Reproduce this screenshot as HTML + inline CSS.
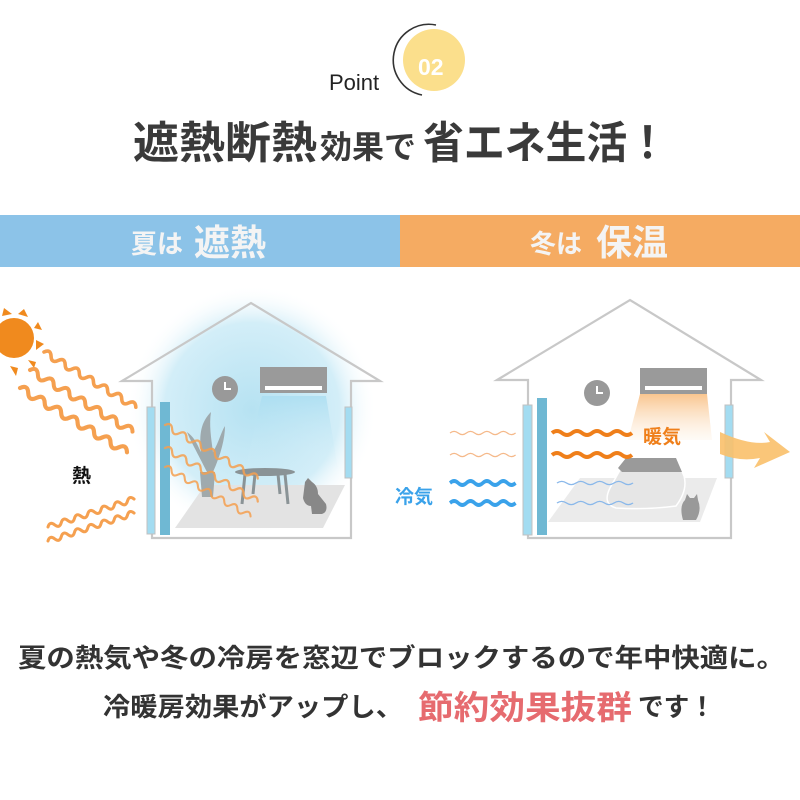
<!DOCTYPE html>
<html><head><meta charset="utf-8">
<style>
html,body{margin:0;padding:0;background:#fff;}
svg{display:block;}
text{font-family:"Liberation Sans","Noto Sans CJK JP",sans-serif;font-weight:bold;}
</style></head><body>
<svg width="800" height="800" viewBox="0 0 800 800" xmlns="http://www.w3.org/2000/svg">
<defs>
<radialGradient id="glow" cx="0.5" cy="0.5" r="0.5">
<stop offset="0" stop-color="#b6e2f2"/><stop offset="0.7" stop-color="#d3eef8"/><stop offset="1" stop-color="#ffffff" stop-opacity="0"/>
</radialGradient>
<linearGradient id="beam" x1="0" y1="0" x2="0" y2="1">
<stop offset="0" stop-color="#a9ddf1"/><stop offset="1" stop-color="#d8f0f8" stop-opacity="0"/>
</linearGradient>
<linearGradient id="warm" x1="0" y1="0" x2="0" y2="1">
<stop offset="0" stop-color="#f9c58f"/><stop offset="1" stop-color="#fde9d3" stop-opacity="0.2"/>
</linearGradient>
<path id="w" d="M0 0 q4 -6 8 0 t8 0 t8 0 t8 0 t8 0 t8 0 t8 0 t8 0 t8 0 t8 0 t8 0 t8 0 t8 0"/>
<path id="wf" d="M0 0 q5 -4 10 0 t10 0 t10 0 t10 0 t10 0 t10 0 t10 0 t10 0"/>
</defs>

<!-- header -->
<path d="M 436 25 A 35 35 0 1 0 422 95" fill="none" stroke="#333" stroke-width="1.6"/>
<circle cx="434" cy="60" r="31" fill="#fbdf8c"/>
<text x="418" y="75" font-size="23" fill="#fff" font-family="Liberation Sans">02</text>
<text x="329" y="90" font-size="22" fill="#222" style="font-weight:normal">Point</text>
<text x="133" y="158" font-size="44" fill="#3a3a3a" textLength="184" lengthAdjust="spacingAndGlyphs">遮熱断熱</text>
<text x="320" y="158" font-size="32" fill="#3a3a3a" textLength="96" lengthAdjust="spacingAndGlyphs">効果で</text>
<text x="423" y="158" font-size="44" fill="#3a3a3a" textLength="245" lengthAdjust="spacingAndGlyphs">省エネ生活！</text>

<!-- bars -->
<rect x="0" y="215" width="400" height="52" fill="#8cc3e8"/>
<rect x="400" y="215" width="400" height="52" fill="#f5ab62"/>
<text x="131" y="253" font-size="26" fill="#f4f4f4">夏は</text>
<text x="194" y="255" font-size="36" fill="#f4f4f4">遮熱</text>
<text x="530" y="253" font-size="26" fill="#f4f4f4">冬は</text>
<text x="596" y="255" font-size="36" fill="#f4f4f4">保温</text>

<!-- LEFT HOUSE -->
<circle cx="252" cy="410" r="125" fill="url(#glow)"/>
<polygon points="262,396 326,396 338,470 245,470" fill="url(#beam)" opacity="0.8"/>
<polygon points="122,381 251,303 380,381 351,381 351,538 152,538 152,381" fill="none" stroke="#c8c8c8" stroke-width="2.2"/>
<polygon points="205,485 345,485 323,528 175,528" fill="#e3e3e3"/>
<rect x="260" y="367" width="67" height="26" fill="#9a9a9a"/>
<rect x="265" y="386" width="57" height="4" fill="#fff"/>
<circle cx="225" cy="389" r="13" fill="#999"/>
<path d="M225 382 v7 h6" stroke="#fff" stroke-width="2" fill="none"/>
<g fill="#9aa3a6" opacity="0.9">
<path d="M200 472 h15 l-2 25 h-11z"/>
<path d="M207 472 c-10 -20 -16 -30 -20 -40 c8 6 10 12 14 20 c-2 -18 0 -30 10 -40 c-2 12 0 26 2 40 c6 -10 8 -20 12 -26 c0 12 -4 28 -12 46z"/>
</g>
<ellipse cx="265" cy="472" rx="30" ry="4" fill="#8a9396"/>
<path d="M245 474 l-3 30 M285 474 l3 30 M255 474 l-2 20 M278 474 l2 20" stroke="#8a9396" stroke-width="3"/>
<path d="M305 482 l3 -4 l4 4 q6 4 6 12 l8 10 q2 8 -4 10 h-10 l-1 -8 q-6 0 -8 -8 z" fill="#888"/>
<rect x="147" y="407" width="8" height="127" fill="#a3dcf1" stroke="#c0c0c0" stroke-width="1"/>
<rect x="160" y="402" width="10" height="133" fill="#6fb8d3"/>
<rect x="345" y="407" width="7" height="71" fill="#a3dcf1" stroke="#c0c0c0" stroke-width="1"/>

<!-- sun -->
<g fill="#f08a1e">
<circle cx="14" cy="338" r="20"/>
<polygon points="4,308 12,314 2,316"/><polygon points="24,309 28,317 18,314"/>
<polygon points="38,322 42,330 34,328"/><polygon points="44,344 36,350 36,340"/>
<polygon points="36,362 34,368 28,360"/><polygon points="18,368 16,376 10,366"/>
</g>
<g fill="none" stroke="#f5a050" stroke-width="3.5" stroke-linecap="round">
<use href="#w" transform="translate(44,352) rotate(31) scale(1.03)"/>
<use href="#w" transform="translate(30,370) rotate(31) scale(1.15)"/>
<use href="#w" transform="translate(20,388) rotate(31) scale(1.2)"/>
<use href="#w" transform="translate(48,527) rotate(-18) scale(0.87)"/>
<use href="#w" transform="translate(48,541) rotate(-18) scale(0.87)"/>
</g>
<g fill="none" stroke="#f5a050" stroke-width="2.2" stroke-linecap="round" opacity="0.85">
<use href="#w" transform="translate(165,425) rotate(30) scale(1.03)"/>
<use href="#w" transform="translate(165,448) rotate(30) scale(1.03)"/>
<use href="#w" transform="translate(165,467) rotate(30) scale(0.95)"/>
</g>
<text x="72" y="482" font-size="19" fill="#111">熱</text>

<!-- RIGHT HOUSE -->
<polygon points="640,394 707,394 712,440 628,440" fill="url(#warm)"/>
<polygon points="497,380 630,300 761,380 731,380 731,538 528,538 528,380" fill="none" stroke="#c8c8c8" stroke-width="2.2"/>
<polygon points="580,478 717,478 700,522 548,522" fill="#ebebeb"/>
<path d="M620 470 l6 -8 h52 l6 14 q4 14 -8 30 q-30 4 -60 2 q-14 -4 -6 -20z" fill="#e6e6e6" stroke="#fff" stroke-width="1.5"/>
<path d="M618 468 l8 -10 h50 l6 14 h-60z" fill="#9a9a9a"/>
<path d="M683 520 q-4 -14 2 -20 l2 -6 l3 4 h4 l3 -4 l1 6 q4 10 -2 20 z" fill="#999"/>
<rect x="640" y="368" width="67" height="26" fill="#9a9a9a"/>
<rect x="645" y="386" width="57" height="4" fill="#fff"/>
<circle cx="597" cy="393" r="13" fill="#999"/>
<path d="M597 386 v7 h6" stroke="#fff" stroke-width="2" fill="none"/>
<rect x="523" y="405" width="9" height="130" fill="#a3dcf1" stroke="#c0c0c0" stroke-width="1"/>
<rect x="537" y="398" width="10" height="137" fill="#6fb8d3"/>
<rect x="725" y="405" width="8" height="73" fill="#a3dcf1" stroke="#c0c0c0" stroke-width="1"/>
<path d="M720 432 q30 14 50 10 l-6 -10 l26 20 l-36 16 l6 -10 q-20 4 -40 -4z" fill="#f9c06a" opacity="0.9"/>
<g fill="none" stroke="#f5b98a" stroke-width="1.5">
<use href="#wf" transform="translate(450,433) scale(0.82,0.8)"/>
<use href="#wf" transform="translate(450,455) scale(0.82,0.8)"/>
</g>
<g fill="none" stroke="#ef7f1a" stroke-width="4">
<use href="#wf" transform="translate(552,433)"/>
<use href="#wf" transform="translate(552,455)"/>
</g>
<g fill="none" stroke="#3aa2ea" stroke-width="4">
<use href="#wf" transform="translate(450,483) scale(0.82,1)"/>
<use href="#wf" transform="translate(450,503) scale(0.82,1)"/>
</g>
<g fill="none" stroke="#8ab8ea" stroke-width="1.5">
<use href="#wf" transform="translate(557,483) scale(0.95,0.8)"/>
<use href="#wf" transform="translate(557,503) scale(0.95,0.8)"/>
</g>
<text x="643" y="443" font-size="19" fill="#ef7f1a">暖気</text>
<text x="395" y="503" font-size="19" fill="#3aa2ea">冷気</text>

<!-- bottom text -->
<text x="18" y="667" font-size="26" fill="#333" textLength="767" lengthAdjust="spacingAndGlyphs">夏の熱気や冬の冷房を窓辺でブロックするので年中快適に。</text>
<text x="103" y="716" font-size="26" fill="#333" textLength="300" lengthAdjust="spacingAndGlyphs">冷暖房効果がアップし、</text>
<text x="418" y="719" font-size="33" fill="#e66b6f" textLength="214" lengthAdjust="spacingAndGlyphs">節約効果抜群</text>
<text x="638" y="716" font-size="26" fill="#333" textLength="77" lengthAdjust="spacingAndGlyphs">です！</text>
</svg>
</body></html>
